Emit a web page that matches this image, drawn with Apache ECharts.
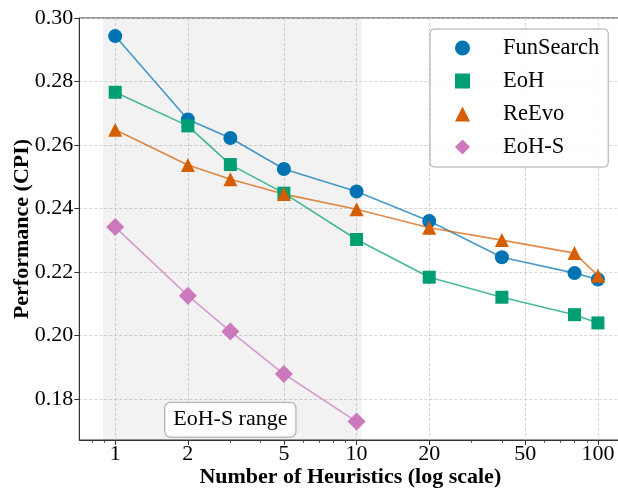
<!DOCTYPE html>
<html>
<head>
<meta charset="utf-8">
<script src="https://cdn.jsdelivr.net/npm/echarts@6/dist/echarts.min.js"></script>
<style>
html,body{margin:0;padding:0;background:#fff;}
#chart{width:618px;height:491px;}
</style>
</head>
<body>
<div id="chart"></div>
<script>
// ---- data ----
const xHeuristics = [1, 2, 3, 5, 10, 20, 40, 80, 100];
const funSearch = [0.2943, 0.2680, 0.2622, 0.2524, 0.2453, 0.2360, 0.2246, 0.2196, 0.2176];
const eoh       = [0.2766, 0.2660, 0.2538, 0.2448, 0.2302, 0.2183, 0.2120, 0.2065, 0.2039];
const reevo     = [0.2648, 0.2537, 0.2492, 0.2445, 0.2397, 0.2339, 0.2300, 0.2259, 0.2188];
const xEohS = [1, 2, 3, 5, 10];
const eohS  = [0.2341, 0.2125, 0.2012, 0.1878, 0.1728];
const xTickLabels = [1, 2, 5, 10, 20, 50, 100];
const xMinorTicks = [0.8, 0.9, 3, 4, 6, 7, 8, 9, 30, 40, 60, 70, 80, 90];
const yTickLabels = [0.18, 0.20, 0.22, 0.24, 0.26, 0.28, 0.30];
const shadeRange = [0.89, 10.5];
const rangeLabelPos = [3, 0.1734];

const FONT = '"Liberation Serif", "Times New Roman", Times, serif';
const pair = (xs, ys) => xs.map((x, i) => [x, ys[i]]);

const chart = echarts.init(document.getElementById('chart'), null, {renderer: 'canvas'});

function mkSeries(name, xs, ys, color, symbol, size, extra) {
  return Object.assign({
    name, type: 'line', xAxisIndex: 0, yAxisIndex: 0,
    data: pair(xs, ys),
    symbol, symbolSize: size,
    showSymbol: true,
    lineStyle: {color, width: 1.6, opacity: 0.72},
    itemStyle: {color, opacity: 1},
    emphasis: {disabled: true},
    animation: false
  }, extra || {});
}

const option = {
  animation: false,
  grid: {left: 79.3, top: 18, width: 542, height: 422, show: true,
         outerBoundsMode: 'none', containLabel: false,
         borderColor: '#333', borderWidth: 1, backgroundColor: 'transparent'},
  xAxis: [{
    type: 'log', logBase: 10, min: 0.71, max: 125,
    name: 'Number of Heuristics (log scale)', nameLocation: 'middle', nameGap: 26, nameMoveOverlap: false,
    nameTextStyle: {fontFamily: FONT, fontSize: 22, fontWeight: 'bold', color: '#000'},
    axisLine: {show: true, lineStyle: {color: '#333', width: 1}},
    axisTick: {show: true, inside: false, length: 5, lineStyle: {color: '#333', width: 1}, customValues: xTickLabels},
    axisLabel: {show: true, customValues: xTickLabels, margin: 3, fontFamily: FONT, fontSize: 22, color: '#000',
                formatter: v => String(Math.round(v))},
    splitLine: {show: true, lineStyle: {color: '#cccccc', type: [3, 2], width: 0.8}},
    minorTick: {show: false}, minorSplitLine: {show: false}
  }, {
    type: 'log', logBase: 10, min: 0.71, max: 125, position: 'bottom', gridIndex: 0,
    axisLine: {show: false},
    axisTick: {show: true, inside: false, length: 3, lineStyle: {color: '#333', width: 0.8}, customValues: xMinorTicks},
    axisLabel: {show: false},
    splitLine: {show: false}
  }],
  yAxis: [{
    type: 'value', min: 0.167, max: 0.300,
    name: 'Performance (CPI)', nameLocation: 'middle', nameGap: 46, nameMoveOverlap: false,
    nameTextStyle: {fontFamily: FONT, fontSize: 22, fontWeight: 'bold', color: '#000'},
    axisLine: {show: true, lineStyle: {color: '#333', width: 1}},
    axisTick: {show: true, inside: false, length: 5, lineStyle: {color: '#333', width: 1}, customValues: yTickLabels},
    axisLabel: {show: true, customValues: yTickLabels, margin: 6, fontFamily: FONT, fontSize: 22, color: '#000',
                formatter: v => v.toFixed(2)},
    splitLine: {show: true, lineStyle: {color: '#cccccc', type: [3, 2], width: 0.8}}
  }],
  legend: {
    orient: 'vertical', left: 430, top: 29,
    padding: [7.5, 9, 8.5, 25],
    itemWidth: 15, itemHeight: 15, itemGap: 10,
    backgroundColor: 'rgba(255,255,255,0.85)', borderColor: '#a8a8a8', borderWidth: 1, borderRadius: 4,
    textStyle: {fontFamily: FONT, fontSize: 22.5, color: '#000', padding: [0, 0, 0, 28]},
    selectedMode: false,
    data: [
      {name: 'FunSearch', icon: 'circle'},
      {name: 'EoH', icon: 'rect'},
      {name: 'ReEvo', icon: 'triangle'},
      {name: 'EoH-S', icon: 'diamond'}
    ]
  },
  series: [
    mkSeries('FunSearch', xHeuristics, funSearch, '#0173b2', 'circle', 14, {
      markArea: {
        silent: true,
        itemStyle: {color: 'rgba(0,0,0,0.05)'},
        label: {show: false},
        data: [[{xAxis: shadeRange[0]}, {xAxis: shadeRange[1]}]]
      }
    }),
    mkSeries('EoH', xHeuristics, eoh, '#029e73', 'rect', 13),
    mkSeries('ReEvo', xHeuristics, reevo, '#d55e00', 'triangle', 14),
    mkSeries('EoH-S', xEohS, eohS, '#cc78bc', 'diamond', 18, {
      markPoint: {
        silent: true,
        symbol: 'rect', symbolSize: 1,
        itemStyle: {color: 'rgba(0,0,0,0)'},
        label: {
          show: true, position: 'inside', formatter: 'EoH-S range',
          fontFamily: FONT, fontSize: 22, color: '#000', lineHeight: 24,
          backgroundColor: 'rgba(255,255,255,0.85)', borderColor: '#a8a8a8', borderWidth: 1, borderRadius: 5,
          padding: [5, 8, 5, 8]
        },
        data: [{coord: rangeLabelPos}]
      }
    })
  ]
};
chart.setOption(option);
</script>
</body>
</html>
